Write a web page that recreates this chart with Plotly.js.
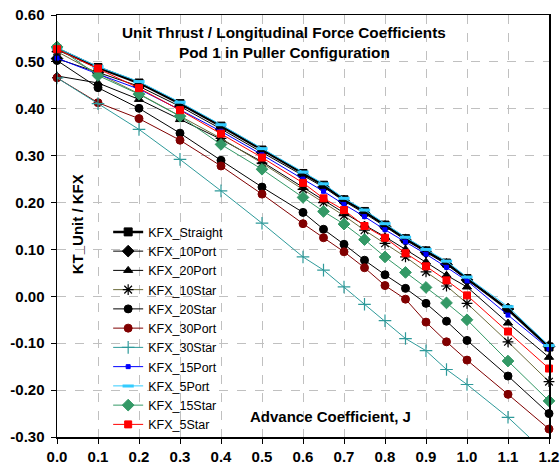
<!DOCTYPE html>
<html><head><meta charset="utf-8">
<script src="https://cdn.plot.ly/plotly-3.0.1.min.js"></script>
<style>html,body{margin:0;padding:0;background:#fff}</style>
</head><body><div id="chart" style="width:560px;height:468px"></div>
<script>
const J = [0,0.1,0.2,0.3,0.4,0.5,0.6,0.65,0.7,0.75,0.8,0.85,0.9,0.95,1.0,1.1,1.2];
const KFX_Straight = [0.528,0.488,0.455,0.411,0.363,0.312,0.262,0.237,0.206,0.181,0.152,0.123,0.097,0.071,0.038,-0.028,-0.108];
const KFX_10Port   = [0.507,0.478,0.448,0.405,0.357,0.307,0.258,0.233,0.203,0.177,0.149,0.120,0.094,0.068,0.035,-0.027,-0.107];
const KFX_20Port   = [0.470,0.455,0.420,0.377,0.335,0.287,0.232,0.205,0.178,0.152,0.127,0.100,0.073,0.045,0.020,-0.057,-0.130];
const KFX_10Star   = [0.522,0.475,0.432,0.385,0.337,0.284,0.228,0.200,0.172,0.141,0.113,0.084,0.052,0.022,-0.015,-0.097,-0.182];
const KFX_20Star   = [0.503,0.445,0.401,0.348,0.290,0.233,0.179,0.143,0.111,0.077,0.046,0.017,-0.015,-0.053,-0.094,-0.170,-0.250];
const KFX_30Port   = [0.466,0.413,0.379,0.333,0.278,0.218,0.155,0.125,0.095,0.061,0.023,-0.006,-0.055,-0.097,-0.136,-0.209,-0.283];
const KFX_30Star   = [0.466,0.411,0.356,0.292,0.225,0.156,0.084,0.056,0.020,-0.017,-0.052,-0.090,-0.116,-0.156,-0.188,-0.258,-0.340];
const KFX_15Port   = [0.508,0.474,0.442,0.398,0.352,0.302,0.250,0.224,0.196,0.170,0.142,0.116,0.090,0.062,0.033,-0.040,-0.112];
const KFX_5Port    = [0.530,0.490,0.458,0.414,0.366,0.315,0.265,0.240,0.209,0.184,0.155,0.126,0.100,0.075,0.041,-0.022,-0.105];
const KFX_15Star   = [0.532,0.471,0.431,0.384,0.324,0.271,0.211,0.181,0.154,0.121,0.084,0.051,0.019,-0.014,-0.050,-0.138,-0.223];
const KFX_5Star    = [0.527,0.486,0.444,0.397,0.347,0.296,0.242,0.209,0.184,0.150,0.125,0.092,0.064,0.034,0.002,-0.075,-0.154];

const yTickVals = [-0.3,-0.2,-0.1,0,0.1,0.2,0.3,0.4,0.5,0.6];
const yTickText = ["-0.30","-0.20","-0.10","0.00","0.10","0.20","0.30","0.40","0.50","0.60"];

const FONT = "Liberation Sans, Arial, sans-serif";

function tr(name, y, lineColor, lw, sym, msize, mcolor, extra) {
  const t = {
    x: J, y: y, name: name, type: 'scatter', mode: 'lines+markers',
    line: {color: lineColor, width: lw},
    marker: {symbol: sym, size: msize, color: mcolor, line: {color: mcolor, width: 1}},
    cliponaxis: false
  };
  return Object.assign(t, extra || {});
}

const data = [
  tr('KFX_Straight', KFX_Straight, '#000000', 2.5, 'square', 8, '#000000'),
  tr('KFX_10Port', KFX_10Port, '#000000', 1, 'diamond', 9, '#000000'),
  tr('KFX_20Port', KFX_20Port, '#000000', 1, 'triangle-up', 8, '#000000'),
  tr('KFX_10Star', KFX_10Star, '#6b6b3a', 1, 'asterisk-open', 9, '#000000', {marker:{symbol:'asterisk-open',size:9,color:'#000000',line:{color:'#000000',width:1.2}}}),
  tr('KFX_20Star', KFX_20Star, '#000000', 1, 'circle', 8, '#000000'),
  tr('KFX_30Port', KFX_30Port, '#800000', 1, 'circle', 8, '#800000'),
  tr('KFX_30Star', KFX_30Star, '#2e9a9a', 1, 'cross-thin-open', 9, '#2e9a9a', {cliponaxis: true, marker:{symbol:'cross-thin-open',size:9,color:'#2e9a9a',line:{color:'#2e9a9a',width:1.2}}}),
  tr('KFX_15Port', KFX_15Port, '#0000ff', 1, 'square', 4, '#0000ff'),
  tr('KFX_5Port', KFX_5Port, '#33ccff', 1, 'line-ew-open', 8, '#33ccff', {marker:{symbol:'line-ew-open',size:8,color:'#33ccff',line:{color:'#33ccff',width:3}}}),
  tr('KFX_15Star', KFX_15Star, '#339966', 1, 'diamond', 9, '#339966'),
  tr('KFX_5Star', KFX_5Star, '#ff0000', 1, 'square', 7, '#ff0000')
];

const layout = {
  width: 560, height: 468,
  margin: {l: 57, r: 11, t: 15, b: 31, pad: 0, autoexpand: false},
  paper_bgcolor: '#ffffff', plot_bgcolor: '#ffffff',
  font: {family: FONT, color: '#000000'},
  showlegend: true,
  legend: {
    x: 0.104, y: (436.8-217)/422.1, xanchor: 'left', yanchor: 'top',
    bgcolor: 'rgba(0,0,0,0)', borderwidth: 0,
    font: {family: FONT, size: 12.5, color: '#000000'},
    tracegroupgap: 0, itemwidth: 30
  },
  xaxis: {
    range: [0, 1.2], tickmode: 'linear', tick0: 0, dtick: 0.1, tickformat: '.1f',
    showline: true, linecolor: '#000000', linewidth: 1.5, mirror: true,
    ticks: 'outside', ticklen: 5, tickcolor: '#000000', tickwidth: 1,
    showgrid: true, gridcolor: '#c0c0c0', griddash: 'dash', gridwidth: 1,
    zeroline: false, ticklabelstandoff: 0, automargin: false,
    tickfont: {family: FONT, size: 15, weight: 'bold', color: '#000000'}
  },
  yaxis: {
    range: [-0.3, 0.6], tickmode: 'array', tickvals: yTickVals, ticktext: yTickText,
    showline: true, linecolor: '#000000', linewidth: 1.5, mirror: true,
    ticks: 'outside', ticklen: 5, tickcolor: '#000000', tickwidth: 1,
    showgrid: true, gridcolor: '#c0c0c0', griddash: 'dash', gridwidth: 1,
    zeroline: false, ticklabelstandoff: 3, automargin: false,
    tickfont: {family: FONT, size: 15, weight: 'bold', color: '#000000'}
  },
  annotations: [
    {text: '<b>Unit Thrust / Longitudinal Force Coefficients</b>', xref: 'paper', yref: 'paper',
     x: (284-57)/492, y: (436.8-32)/422.1, xanchor: 'center', yanchor: 'middle', showarrow: false,
     font: {family: FONT, size: 15.3, color: '#000000'}},
    {text: '<b>Pod 1 in Puller Configuration</b>', xref: 'paper', yref: 'paper',
     x: (284-57)/492, y: (436.8-52.7)/422.1, xanchor: 'center', yanchor: 'middle', showarrow: false,
     font: {family: FONT, size: 15.3, color: '#000000'}},
    {text: '<b>KT_Unit / KFX</b>', xref: 'paper', yref: 'paper', textangle: -90,
     x: (77-57)/492, y: (436.8-224)/422.1, xanchor: 'center', yanchor: 'middle', showarrow: false,
     font: {family: FONT, size: 15, color: '#000000'}},
    {text: '<b>Advance Coefficient, J</b>', xref: 'paper', yref: 'paper',
     x: (330-57)/492, y: (436.8-416)/422.1, xanchor: 'center', yanchor: 'middle', showarrow: false,
     font: {family: FONT, size: 15, color: '#000000'}}
  ]
};

Plotly.newPlot('chart', data, layout, {displayModeBar: false, staticPlot: true});
</script></body></html>
